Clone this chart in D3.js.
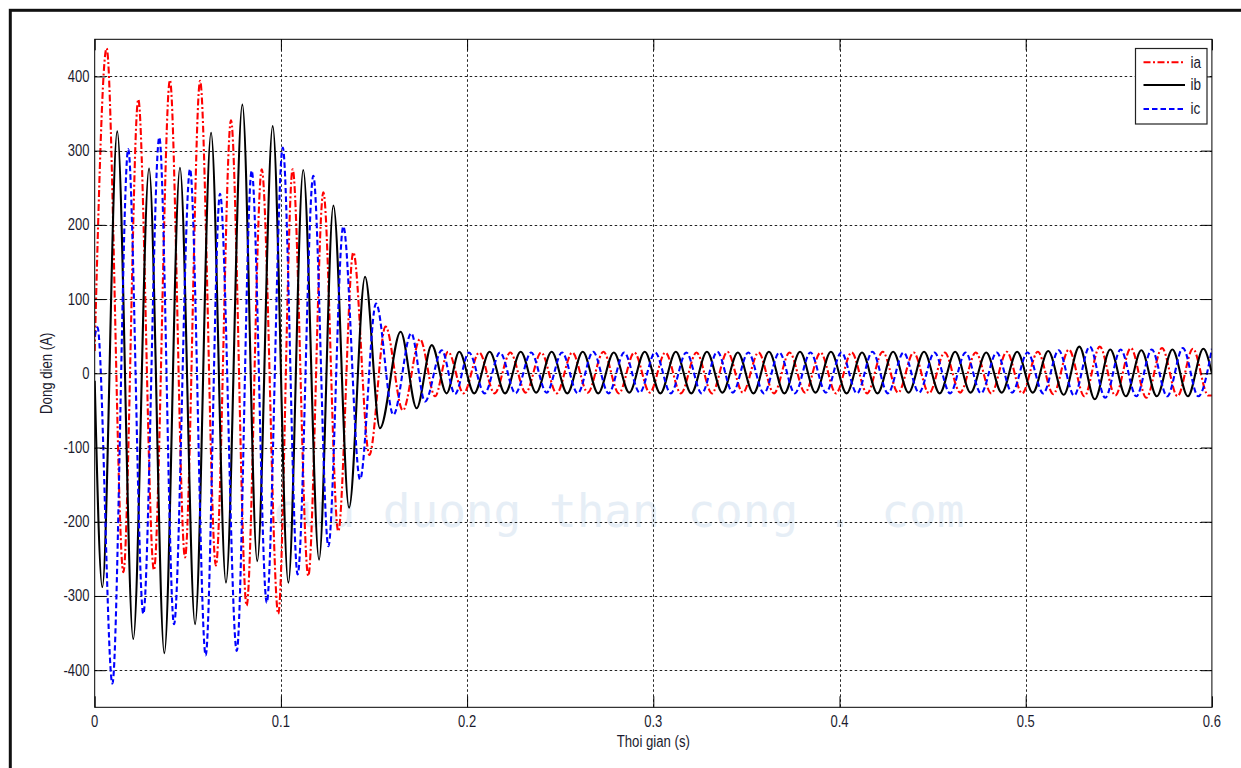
<!DOCTYPE html>
<html>
<head>
<meta charset="utf-8">
<script src="https://cdn.jsdelivr.net/npm/d3@7"></script>
<style>
  html, body { margin: 0; padding: 0; background: #fff; }
  svg { display: block; }
  text { font-family: "Liberation Sans", Arial, sans-serif; fill: #1b1b2e; }
</style>
</head>
<body>
<svg id="chart" width="1241" height="768"></svg>
<script>
// Phase currents: turning points [time (s), current (A)] of each waveform
const ia = [
  [0, 30], [0.0064, 438], [0.0154, -268], [0.0234, 369], [0.0318, -265], [0.0404, 395],
  [0.0485, -248], [0.0566, 394], [0.0651, -259], [0.0732, 341], [0.0816, -313], [0.0897, 275],
  [0.0986, -324], [0.1063, 275], [0.1147, -273], [0.1228, 244], [0.1308, -213], [0.1389, 163],
  [0.1475, -110], [0.1562, 63], [0.1655, -50], [0.1747, 46], [0.1828, -31], [0.1898, 29],
  [0.1981, -27], [0.2065, 28], [0.2148, -27], [0.2232, 28], [0.2315, -26], [0.2398, 28],
  [0.2481, -27], [0.2565, 28], [0.2648, -26], [0.2732, 29], [0.2815, -27], [0.2898, 28],
  [0.2981, -26], [0.3065, 28], [0.3148, -27], [0.3232, 28], [0.3315, -27], [0.3398, 29],
  [0.3481, -26], [0.3565, 28], [0.3648, -27], [0.3732, 28], [0.3815, -26], [0.3898, 28],
  [0.3981, -27], [0.4065, 28], [0.4148, -27], [0.4232, 29], [0.4315, -26], [0.4398, 28],
  [0.4481, -27], [0.4565, 28], [0.4648, -26], [0.4732, 28], [0.4815, -27], [0.4898, 29],
  [0.4981, -27], [0.5065, 29], [0.5148, -28], [0.5232, 32], [0.5315, -31], [0.5398, 36],
  [0.5481, -30], [0.5565, 34], [0.5648, -33], [0.5732, 34], [0.5815, -31], [0.5898, 33],
  [0.5981, -30], [0.6, -30]
];
const ib = [
  [0, -10], [0.0041, -288], [0.0121, 326], [0.0207, -358], [0.0292, 276], [0.0374, -377],
  [0.0458, 277], [0.0539, -338], [0.0625, 324], [0.0705, -282], [0.0793, 362], [0.0873, -253],
  [0.0956, 333], [0.104, -282], [0.112, 274], [0.1205, -251], [0.1282, 226], [0.1366, -181],
  [0.1452, 130], [0.1532, -74], [0.1643, 56], [0.1729, -47], [0.181, 38], [0.189, -27],
  [0.1958, 29], [0.2038, -27], [0.2121, 29], [0.2204, -27], [0.2288, 29], [0.2371, -26],
  [0.2454, 29], [0.2538, -27], [0.2621, 29], [0.2704, -27], [0.2788, 28], [0.2871, -26],
  [0.2954, 29], [0.3038, -27], [0.3121, 29], [0.3204, -27], [0.3288, 29], [0.3371, -26],
  [0.3454, 28], [0.3538, -27], [0.3621, 29], [0.3704, -27], [0.3788, 29], [0.3871, -26],
  [0.3954, 29], [0.4038, -27], [0.4121, 28], [0.4204, -27], [0.4288, 29], [0.4371, -26],
  [0.4454, 29], [0.4538, -27], [0.4621, 29], [0.4704, -26], [0.4788, 28], [0.4871, -26],
  [0.4954, 29], [0.5038, -26], [0.5121, 30], [0.5204, -29], [0.5288, 36], [0.5371, -35],
  [0.5454, 32], [0.5538, -31], [0.5621, 31], [0.5704, -31], [0.5788, 32], [0.5871, -31],
  [0.5954, 33], [0.6, 0]
];
const ic = [
  [0, 50], [0.0015, 62], [0.0095, -418], [0.018, 302], [0.0261, -324], [0.0347, 318],
  [0.0426, -338], [0.0512, 275], [0.0596, -380], [0.0673, 242], [0.0763, -374], [0.0843, 273],
  [0.0924, -309], [0.101, 304], [0.109, -271], [0.1174, 266], [0.1255, -233], [0.1335, 198],
  [0.1425, -143], [0.1511, 94], [0.1604, -56], [0.17, 54], [0.1774, -38], [0.1864, 31],
  [0.1935, -28], [0.201, 28], [0.2094, -27], [0.2177, 28], [0.226, -27], [0.2344, 28],
  [0.2427, -26], [0.251, 28], [0.2594, -27], [0.2677, 29], [0.276, -27], [0.2844, 28],
  [0.2927, -26], [0.301, 28], [0.3094, -27], [0.3177, 28], [0.326, -27], [0.3344, 29],
  [0.3427, -26], [0.351, 28], [0.3594, -27], [0.3677, 28], [0.376, -27], [0.3844, 28],
  [0.3927, -26], [0.401, 28], [0.4094, -27], [0.4177, 29], [0.426, -27], [0.4344, 28],
  [0.4427, -26], [0.451, 28], [0.4594, -27], [0.4677, 28], [0.476, -27], [0.4844, 28],
  [0.4927, -26], [0.501, 28], [0.5094, -27], [0.5177, 31], [0.526, -30], [0.5344, 36],
  [0.5427, -33], [0.551, 32], [0.5594, -31], [0.5677, 32], [0.576, -31], [0.5844, 34],
  [0.5927, -31], [0.6, 33]
];

const seriesNames = ["ia", "ib", "ic"];
const xTicks = [0, 0.1, 0.2, 0.3, 0.4, 0.5, 0.6];
const xTickLabels = ["0", "0.1", "0.2", "0.3", "0.4", "0.5", "0.6"];
const yTicks = [-400, -300, -200, -100, 0, 100, 200, 300, 400];
const yTickLabels = ["-400", "-300", "-200", "-100", "0", "100", "200", "300", "400"];
const xTitle = "Thoi gian (s)";
const yTitle = "Dong dien (A)";

const svg = d3.select("#chart");
const W = 1241, H = 768;
const plot = { left: 94.7, right: 1211.9, top: 39.3, bottom: 707.3 };

const x = d3.scaleLinear().domain([0, 0.6]).range([plot.left, plot.right]);
const y = d3.scaleLinear().domain([-450, 450]).range([plot.bottom, plot.top]);

const styles = {
  ia: { color: "#ff0000", dash: "7,2.5,2,2.5" },
  ib: { color: "#000000", dash: null },
  ic: { color: "#0000ff", dash: "5.5,3" }
};

svg.append("rect").attr("width", W).attr("height", H).attr("fill", "#fff");

// figure frame
svg.append("rect")
  .attr("x", 10.3).attr("y", 10.3).attr("width", 1400).attr("height", 900)
  .attr("fill", "none").attr("stroke", "#111").attr("stroke-width", 3);

// watermark
svg.append("text")
  .attr("x", 272).attr("y", 527)
  .style("font-family", "'DejaVu Sans Mono', 'Liberation Mono', monospace")
  .style("font-size", "46px")
  .style("fill", "#e6eef6")
  .text("cuu duong than cong . com");

// grid
const grid = svg.append("g").attr("stroke", "#222").attr("stroke-width", 1)
  .attr("stroke-dasharray", "2.5,2.5").attr("fill", "none");
xTicks.slice(1, -1).forEach(t => {
  grid.append("line").attr("x1", Math.round(x(t)) + 0.5).attr("x2", Math.round(x(t)) + 0.5)
    .attr("y1", plot.top).attr("y2", plot.bottom);
});
yTicks.forEach(v => {
  grid.append("line").attr("x1", plot.left).attr("x2", plot.right)
    .attr("y1", Math.round(y(v)) + 0.5).attr("y2", Math.round(y(v)) + 0.5);
});

// current waveforms
svg.append("clipPath").attr("id", "plotClip").append("rect")
  .attr("x", plot.left).attr("y", plot.top)
  .attr("width", plot.right - plot.left).attr("height", plot.bottom - plot.top);

const line = d3.line()
  .x(d => x(d[0])).y(d => y(d[1]))
  .curve(d3.curveMonotoneX);

const data = { ia, ib, ic };
const lines = svg.append("g").attr("clip-path", "url(#plotClip)");
seriesNames.forEach(name => {
  const s = styles[name];
  lines.append("path")
    .datum(data[name])
    .attr("d", line)
    .attr("fill", "none")
    .attr("stroke", s.color)
    .attr("stroke-width", 2.1)
    .attr("stroke-linejoin", "round")
    .attr("stroke-dasharray", s.dash);
});

// axes box and inward ticks
svg.append("rect")
  .attr("x", plot.left).attr("y", plot.top)
  .attr("width", plot.right - plot.left).attr("height", plot.bottom - plot.top)
  .attr("fill", "none").attr("stroke", "#000").attr("stroke-width", 1);

const tickLen = 11;
const xAxisB = d3.axisBottom(x).tickValues(xTicks).tickSizeInner(-tickLen).tickSizeOuter(0).tickFormat("");
const xAxisT = d3.axisTop(x).tickValues(xTicks).tickSizeInner(-tickLen).tickSizeOuter(0).tickFormat("");
const yAxisL = d3.axisLeft(y).tickValues(yTicks).tickSizeInner(-tickLen).tickSizeOuter(0).tickFormat("");
const yAxisR = d3.axisRight(y).tickValues(yTicks).tickSizeInner(-tickLen).tickSizeOuter(0).tickFormat("");
[
  [xAxisB, `translate(0,${plot.bottom})`],
  [xAxisT, `translate(0,${plot.top})`],
  [yAxisL, `translate(${plot.left},0)`],
  [yAxisR, `translate(${plot.right},0)`]
].forEach(([ax, tr]) => {
  const g = svg.append("g").attr("transform", tr).call(ax);
  g.select(".domain").remove();
  g.selectAll("line").attr("stroke", "#000");
});

// labels (text is slightly tall and narrow)
const SY = 1.2;
function label(px, py, str, anchor, size, rotate) {
  const rot = rotate ? ` rotate(${rotate})` : "";
  return svg.append("text")
    .attr("transform", `translate(${px},${py})${rot} scale(1,${SY})`)
    .attr("text-anchor", anchor)
    .attr("font-size", size)
    .text(str);
}

xTicks.forEach((t, i) => label(x(t), 726.5, xTickLabels[i], "middle", 13));
yTicks.forEach((v, i) => label(89.5, y(v) + 5.5, yTickLabels[i], "end", 13));
label((plot.left + plot.right) / 2, 747, xTitle, "middle", 13.2);
label(52, (plot.top + plot.bottom) / 2, yTitle, "middle", 13.2, -90);

// legend
const lg = svg.append("g");
lg.append("rect").attr("x", 1135.5).attr("y", 48.5).attr("width", 71.5).attr("height", 75.5)
  .attr("fill", "#fff").attr("stroke", "#222").attr("stroke-width", 1.2);
const rows = [62.3, 85, 109];
seriesNames.forEach((name, i) => {
  const s = styles[name];
  lg.append("line").attr("x1", 1143.5).attr("x2", 1185).attr("y1", rows[i]).attr("y2", rows[i])
    .attr("stroke", s.color).attr("stroke-width", 2).attr("stroke-dasharray", s.dash);
  label(1190.5, rows[i] + 5.2, name, "start", 13.5);
});
</script>
</body>
</html>
